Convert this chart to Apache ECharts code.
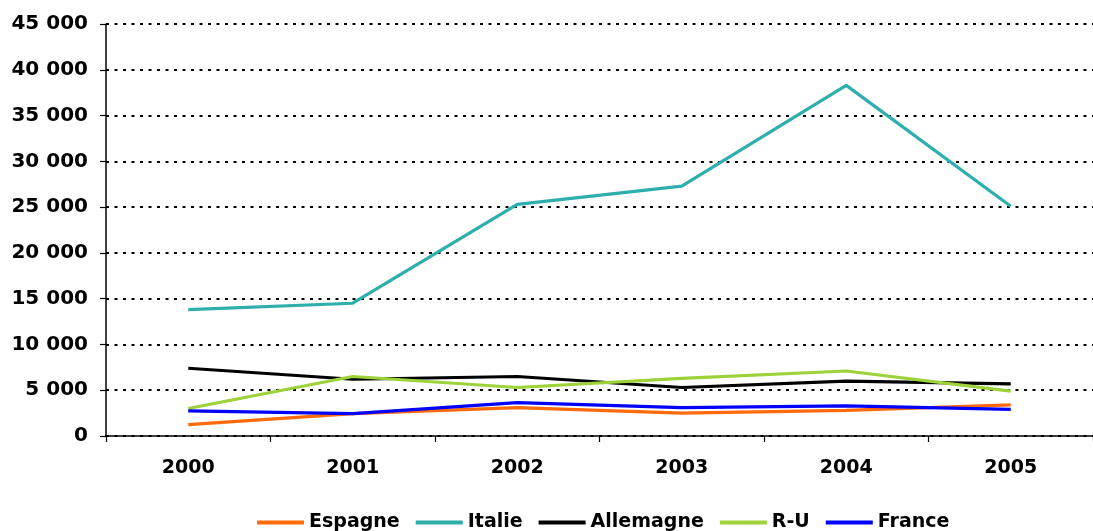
<!DOCTYPE html>
<html>
<head>
<meta charset="utf-8">
<script src="https://cdn.jsdelivr.net/npm/echarts@6/dist/echarts.min.js"></script>
<style>
  html, body { margin: 0; padding: 0; background: #fff; }
  #chart { width: 1093px; height: 531px; }
</style>
</head>
<body>
<div id="chart"></div>
<script>
// Years on the horizontal axis
const years = ['2000', '2001', '2002', '2003', '2004', '2005'];

// Values per country
const espagne   = [1250, 2450, 3100, 2500, 2800, 3400];
const italie    = [13800, 14500, 25300, 27300, 38300, 25100];
const allemagne = [7400, 6200, 6500, 5300, 6000, 5700];
const ru        = [3000, 6500, 5300, 6300, 7100, 4900];
const france    = [2750, 2450, 3650, 3100, 3300, 2900];

// Value-axis labels, one per 5 000 step
const yTickLabels = ['0', '5 000', '10 000', '15 000', '20 000', '25 000', '30 000', '35 000', '40 000', '45 000'];

const FONT = 'DejaVu Sans';

const seriesDefs = [
  { name: 'Espagne',   data: espagne,   color: '#FF6A0A' },
  { name: 'Italie',    data: italie,    color: '#2EAEAC' },
  { name: 'Allemagne', data: allemagne, color: '#000000' },
  { name: 'R-U',       data: ru,        color: '#9ED23A' },
  { name: 'France',    data: france,    color: '#0000FF' }
];

const chart = echarts.init(document.getElementById('chart'), null, { renderer: 'canvas' });

chart.setOption({
  animation: false,
  backgroundColor: '#ffffff',
  grid: { left: 106, right: -13, top: 24, bottom: 95, containLabel: false },
  legend: {
    left: 252,
    top: 508,
    itemWidth: 47,
    itemHeight: 4,
    itemGap: 16,
    icon: 'rect',
    textStyle: { fontFamily: FONT, fontWeight: 'bold', fontSize: 19, color: '#000' },
    data: seriesDefs.map(s => ({ name: s.name, itemStyle: { color: s.color } }))
  },
  xAxis: {
    type: 'category',
    data: years,
    boundaryGap: true,
    axisLine: { show: true, lineStyle: { color: '#000', width: 1.5 } },
    axisTick: { show: true, length: 6, lineStyle: { color: '#000', width: 1.2 } },
    axisLabel: { margin: 23, fontFamily: FONT, fontWeight: 'bold', fontSize: 19, color: '#000' },
    splitLine: { show: false }
  },
  yAxis: {
    type: 'value',
    min: 0,
    max: 45000,
    interval: 5000,
    axisLine: { show: true, lineStyle: { color: '#000', width: 1.5 } },
    axisTick: { show: true, length: 6, lineStyle: { color: '#000', width: 1.2 } },
    axisLabel: {
      margin: 18,
      fontFamily: FONT,
      fontWeight: 'bold',
      fontSize: 20,
      color: '#000',
      formatter: v => yTickLabels[Math.round(v / 5000)]
    },
    splitLine: { show: true, lineStyle: { color: '#000', width: 2, type: [3, 5.5] } }
  },
  series: seriesDefs.map(s => ({
    name: s.name,
    type: 'line',
    data: s.data,
    symbol: 'none',
    smooth: false,
    color: s.color,
    lineStyle: { color: s.color, width: 3.2 },
    itemStyle: { color: s.color }
  }))
});
</script>
</body>
</html>
